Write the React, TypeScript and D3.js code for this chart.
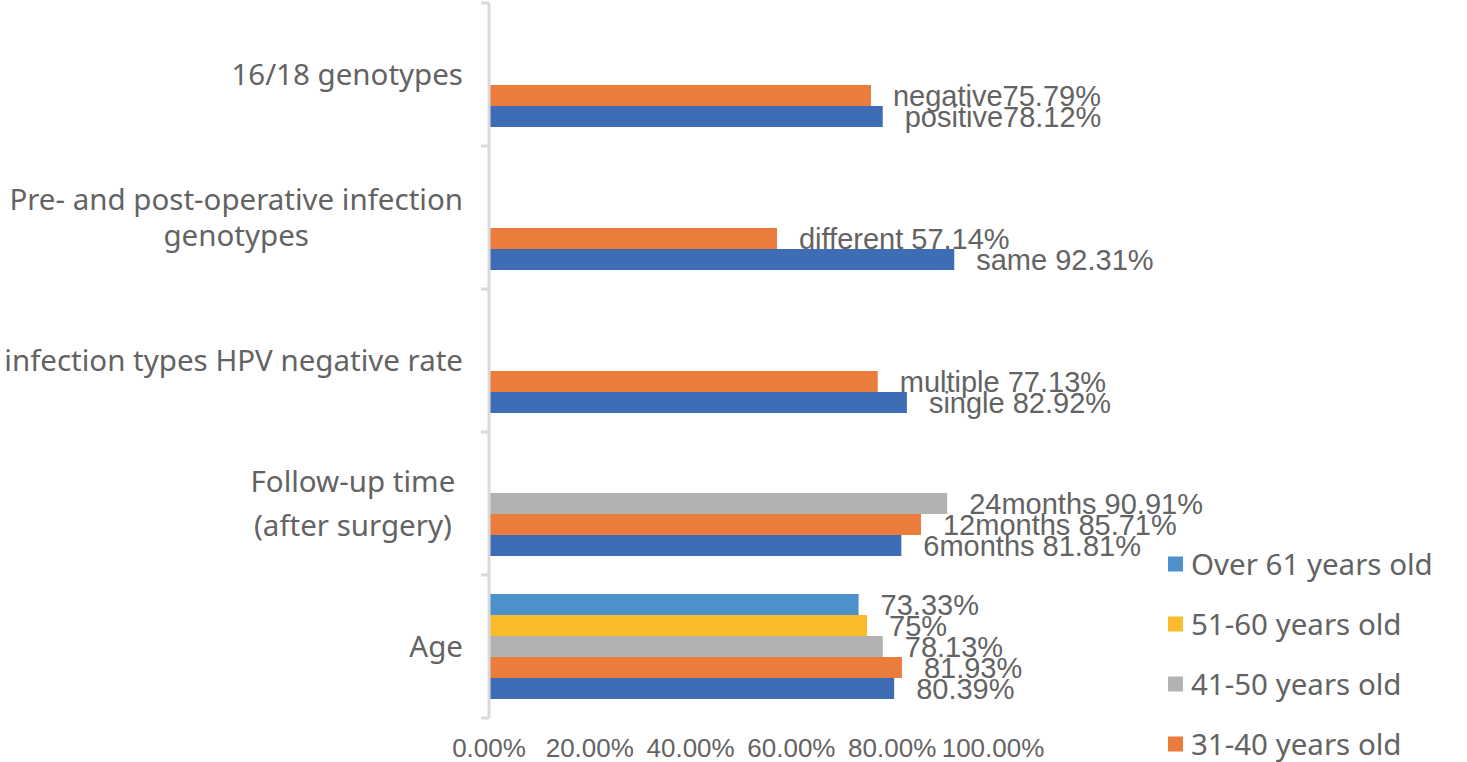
import { useEffect, useRef } from 'react';
import * as d3 from 'd3';

// categories, top to bottom as drawn
const categories = [
  '16/18 genotypes',
  'Pre- and post-operative infection genotypes',
  'infection types HPV negative rate',
  'Follow-up time (after surgery)',
  'Age',
];
const categoryLines = [
  ['16/18 genotypes'],
  ['Pre- and post-operative infection', 'genotypes'],
  ['infection types HPV negative rate'],
  ['Follow-up time ', '(after surgery) '],
  ['Age'],
];

// five series slots per category (series 1 drawn at the bottom of a band)
const series1 = [78.12, 92.31, 82.92, 81.81, 80.39];
const series2 = [75.79, 57.14, 77.13, 85.71, 81.93];
const series3 = [null, null, null, 90.91, 78.13];
const series4 = [null, null, null, null, 75];
const series5 = [null, null, null, null, 73.33];

const labels1 = ['positive78.12%', 'same 92.31%', 'single 82.92%', '6months 81.81%', '80.39%'];
const labels2 = ['negative75.79%', 'different 57.14%', 'multiple 77.13%', '12months 85.71%', '81.93%'];
const labels3 = ['', '', '', '24months 90.91%', '78.13%'];
const labels4 = ['', '', '', '', '75%'];
const labels5 = ['', '', '', '', '73.33%'];

const seriesColors = ['#3E6DB5', '#EB7D3C', '#B2B2B2', '#FBBC2C', '#4C91CC'];

// legend entries visible in the picture (top to bottom)
const legendNames = ['Over 61 years old', '51-60 years old', '41-50 years old', '31-40 years old'];
const legendSeries = [4, 3, 2, 1];

const xTicks = [0, 0.2, 0.4, 0.6, 0.8, 1];

const W = 1467;
const H = 762;

export default function App() {
  const svgRef = useRef<SVGSVGElement>(null);

  useEffect(() => {
    document.body.style.margin = '0';
    if (!svgRef.current) return;
    const svg = d3.select(svgRef.current);
    svg.selectAll('*').remove();

    const textColor = '#636363';
    const values = [series1, series2, series3, series4, series5];
    const labels = [labels1, labels2, labels3, labels4, labels5];

    const x = d3.scaleLinear().domain([0, 1]).range([489, 993]);
    const y = d3.scaleBand<string>().domain(categories).range([3, 718]).padding(0);
    const slot = d3
      .scaleBand<number>()
      .domain([4, 3, 2, 1, 0])
      .range([0, y.bandwidth()])
      .paddingInner(0)
      .paddingOuter(0.905);

    // bars
    values.forEach((vals, s) => {
      const rows = categories
        .map((c, i) => ({ c, v: vals[i], label: labels[s][i] }))
        .filter((d) => d.v != null);

      svg
        .append('g')
        .selectAll('rect')
        .data(rows)
        .join('rect')
        .attr('x', x(0))
        .attr('y', (d) => (y(d.c) as number) + (slot(s) as number))
        .attr('width', (d) => x((d.v as number) / 100) - x(0))
        .attr('height', slot.bandwidth())
        .attr('fill', seriesColors[s]);

      svg
        .append('g')
        .selectAll('text')
        .data(rows)
        .join('text')
        .attr('x', (d) => x((d.v as number) / 100) + 22)
        .attr('y', (d) => (y(d.c) as number) + (slot(s) as number) + slot.bandwidth() / 2)
        .attr('dy', '0.36em')
        .attr('font-family', '"Liberation Sans", Arial, sans-serif')
        .attr('font-size', 29)
        .attr('fill', textColor)
        .text((d) => d.label);
    });

    // vertical axis line with ticks at band boundaries
    const axis = svg.append('g');
    axis
      .append('line')
      .attr('x1', x(0))
      .attr('x2', x(0))
      .attr('y1', y.range()[0])
      .attr('y2', y.range()[1])
      .attr('stroke', '#D9D9D9')
      .attr('stroke-width', 3);
    const bounds = categories.map((c) => y(c) as number).concat([y.range()[1]]);
    axis
      .selectAll('line.tick')
      .data(bounds)
      .join('line')
      .attr('class', 'tick')
      .attr('x1', x(0) - 8)
      .attr('x2', x(0))
      .attr('y1', (d) => d)
      .attr('y2', (d) => d)
      .attr('stroke', '#D9D9D9')
      .attr('stroke-width', 3);

    // category labels
    const lineHeights = [36, 36, 36, 44, 36];
    categories.forEach((c, i) => {
      const lines = categoryLines[i];
      const lh = lineHeights[i];
      const cy = (y(c) as number) + y.bandwidth() / 2;
      const g = svg.append('g');
      const t = g
        .selectAll('text')
        .data(lines)
        .join('text')
        .attr('x', 0)
        .attr('y', (_, k) => cy + (k - (lines.length - 1) / 2) * lh)
        .attr('dy', '0.36em')
        .attr('text-anchor', 'middle')
        .attr('font-family', '"Noto Sans", sans-serif')
        .attr('font-size', 29.5)
        .attr('fill', textColor)
        .style('white-space', 'pre')
        .text((d) => d);
      let maxW = 0;
      t.each(function () {
        maxW = Math.max(maxW, (this as SVGTextElement).getComputedTextLength());
      });
      g.attr('transform', `translate(${463 - maxW / 2},0)`);
    });

    // x tick labels
    svg
      .append('g')
      .selectAll('text')
      .data(xTicks)
      .join('text')
      .attr('x', (d) => x(d))
      .attr('y', 748)
      .attr('dy', '0.36em')
      .attr('text-anchor', 'middle')
      .attr('font-family', '"Liberation Sans", Arial, sans-serif')
      .attr('font-size', 26)
      .attr('fill', textColor)
      .text((d) => d3.format('.2%')(d));

    // legend
    const lg = svg
      .append('g')
      .selectAll('g')
      .data(legendNames)
      .join('g')
      .attr('transform', (_, i) => `translate(1168,${564 + i * 60})`);
    lg.append('rect')
      .attr('x', 0)
      .attr('y', -7.5)
      .attr('width', 15)
      .attr('height', 15)
      .attr('fill', (_, i) => seriesColors[legendSeries[i]]);
    lg.append('text')
      .attr('x', 23)
      .attr('y', 0)
      .attr('dy', '0.36em')
      .attr('font-family', '"Noto Sans", sans-serif')
      .attr('font-size', 29.5)
      .attr('fill', textColor)
      .text((d) => d);
  }, []);

  return <svg ref={svgRef} width={W} height={H} style={{ display: 'block', background: '#fff' }} />;
}
